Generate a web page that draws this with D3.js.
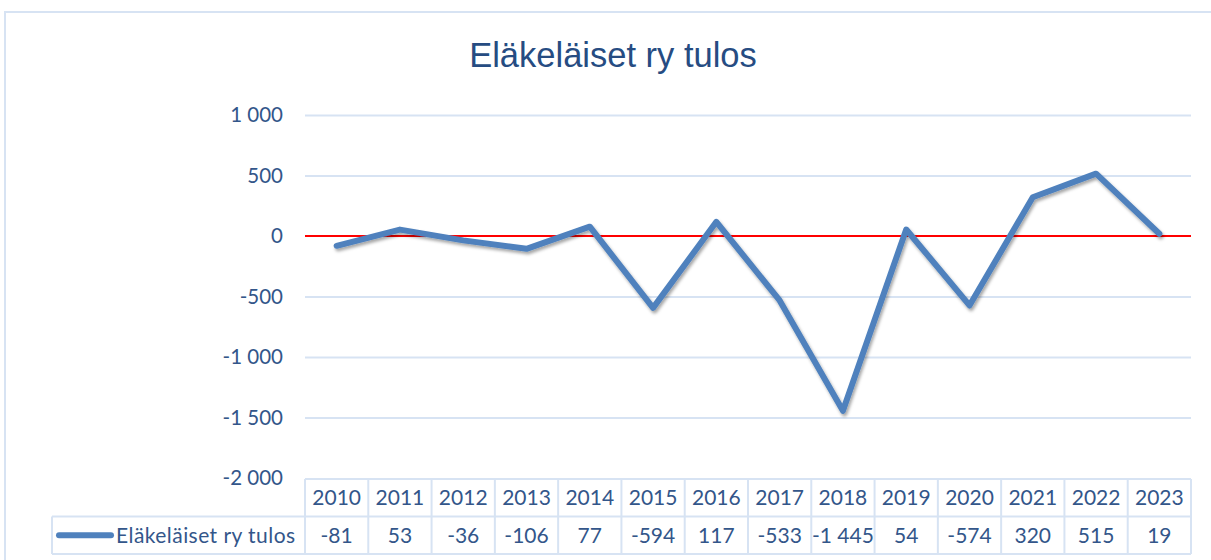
<!DOCTYPE html>
<html>
<head>
<meta charset="utf-8">
<script src="https://cdn.jsdelivr.net/npm/d3@7"></script>
<style>
  body { margin: 0; background: #fff; }
  svg text { font-family: Lato, "Open Sans", sans-serif; }
</style>
</head>
<body>
<div id="chart"></div>
<script>
// chart data
const years = ["2010", "2011", "2012", "2013", "2014", "2015", "2016", "2017", "2018", "2019", "2020", "2021", "2022", "2023"];
const tulos = [-81, 53, -36, -106, 77, -594, 117, -533, -1445, 54, -574, 320, 515, 19];
const yTicks = [1000, 500, 0, -500, -1000, -1500, -2000];
const seriesName = "Eläkeläiset ry tulos";
const title = "Eläkeläiset ry tulos";

const W = 1211, H = 560;
const plot = { left: 305, right: 1191, top: 115, bottom: 478 };
const rowH = 37.5;
const gridColor = "#d7e3f3";
const textColor = "#33568a";

const fi = d3.formatLocale({ decimal: ",", thousands: " ", grouping: [3], currency: ["", ""], minus: "-" });
const fmt = fi.format(",d");

const svg = d3.select("#chart")
  .append("svg")
    .attr("width", W)
    .attr("height", H);

// drop shadow for the line
const defs = svg.append("defs");
const filt = defs.append("filter").attr("id", "shadow")
  .attr("x", "-10%").attr("y", "-10%").attr("width", "120%").attr("height", "130%");
filt.append("feDropShadow")
  .attr("dx", 1.5).attr("dy", 2.5).attr("stdDeviation", 1.6)
  .attr("flood-color", "#000").attr("flood-opacity", 0.35);

// outer chart frame (runs past the right and bottom edge)
svg.append("rect")
  .attr("x", 5).attr("y", 12)
  .attr("width", W + 20).attr("height", H + 20)
  .attr("fill", "none")
  .attr("stroke", gridColor)
  .attr("stroke-width", 2);

// title
svg.append("text")
  .attr("x", 613).attr("y", 67)
  .attr("text-anchor", "middle")
  .style("font-family", "'Liberation Sans', Arial, sans-serif")
  .style("font-size", "34.5px")
  .attr("fill", "#264c82")
  .text(title);

// scales
const x = d3.scaleBand()
  .domain(years)
  .range([plot.left, plot.right])
  .padding(0);

const y = d3.scaleLinear()
  .domain([-2000, 1000])
  .range([plot.bottom, plot.top]);

// gridlines
svg.append("g")
  .attr("transform", `translate(${plot.left},0)`)
  .call(d3.axisLeft(y).tickValues(yTicks.filter(d => d !== 0 && d !== -2000))
    .tickSize(-(plot.right - plot.left)).tickFormat(""))
  .call(g => g.select(".domain").remove())
  .call(g => g.selectAll("line").attr("stroke", gridColor).attr("stroke-width", 2));

// y axis labels
svg.append("g")
  .attr("transform", `translate(${plot.left},0)`)
  .call(d3.axisLeft(y).tickValues(yTicks).tickSize(0).tickPadding(22).tickFormat(fmt))
  .call(g => g.select(".domain").remove())
  .call(g => g.selectAll("text")
    .attr("fill", textColor)
    .style("font-family", "Lato, sans-serif")
    .style("font-size", "20.5px"));

// zero line
svg.append("line")
  .attr("x1", plot.left).attr("x2", plot.right)
  .attr("y1", y(0)).attr("y2", y(0))
  .attr("stroke", "#ff0000")
  .attr("stroke-width", 2);

// the series line
const line = d3.line()
  .x((d, i) => x(years[i]) + x.bandwidth() / 2)
  .y(d => y(d));

svg.append("path")
  .datum(tulos)
  .attr("d", line)
  .attr("fill", "none")
  .attr("stroke", "#4f81bd")
  .attr("stroke-width", 6)
  .attr("stroke-linejoin", "round")
  .attr("stroke-linecap", "round")
  .attr("filter", "url(#shadow)");

// data table
const tbl = svg.append("g");
const tableTop = plot.bottom + 1;
const legendLeft = 52;

tbl.selectAll("text.yr")
  .data(years)
  .enter()
  .append("text")
    .attr("class", "yr")
    .attr("x", d => x(d) + x.bandwidth() / 2)
    .attr("y", tableTop + rowH / 2)
    .attr("dy", "0.36em")
    .attr("text-anchor", "middle")
    .attr("fill", textColor)
    .style("font-size", "21px")
    .text(d => d);

tbl.selectAll("text.val")
  .data(tulos)
  .enter()
  .append("text")
    .attr("class", "val")
    .attr("x", (d, i) => x(years[i]) + x.bandwidth() / 2)
    .attr("y", tableTop + rowH * 1.5)
    .attr("dy", "0.36em")
    .attr("text-anchor", "middle")
    .attr("fill", textColor)
    .style("font-size", "21px")
    .text(d => fmt(d));

// table borders
const hLines = [
  [plot.left, plot.right, tableTop],
  [legendLeft, plot.right, tableTop + rowH],
  [legendLeft, plot.right, tableTop + rowH * 2]
];
tbl.selectAll("line.h")
  .data(hLines)
  .enter()
  .append("line")
    .attr("x1", d => d[0]).attr("x2", d => d[1])
    .attr("y1", d => d[2]).attr("y2", d => d[2])
    .attr("stroke", gridColor).attr("stroke-width", 2);

const vEdges = years.map(d => x(d)).concat([plot.right]);
tbl.selectAll("line.v")
  .data(vEdges)
  .enter()
  .append("line")
    .attr("x1", d => d).attr("x2", d => d)
    .attr("y1", tableTop).attr("y2", tableTop + rowH * 2)
    .attr("stroke", gridColor).attr("stroke-width", 2);

tbl.append("line")
  .attr("x1", legendLeft).attr("x2", legendLeft)
  .attr("y1", tableTop + rowH).attr("y2", tableTop + rowH * 2)
  .attr("stroke", gridColor).attr("stroke-width", 2);

// legend key inside the table
tbl.append("line")
  .attr("x1", 59).attr("x2", 111)
  .attr("y1", tableTop + rowH * 1.5).attr("y2", tableTop + rowH * 1.5)
  .attr("stroke", "#4f81bd")
  .attr("stroke-width", 6)
  .attr("stroke-linecap", "round");

tbl.append("text")
  .attr("x", 116)
  .attr("y", tableTop + rowH * 1.5)
  .attr("dy", "0.36em")
  .attr("fill", textColor)
  .style("font-size", "21px")
  .style("letter-spacing", "0.45px")
  .text(seriesName);
</script>
</body>
</html>
